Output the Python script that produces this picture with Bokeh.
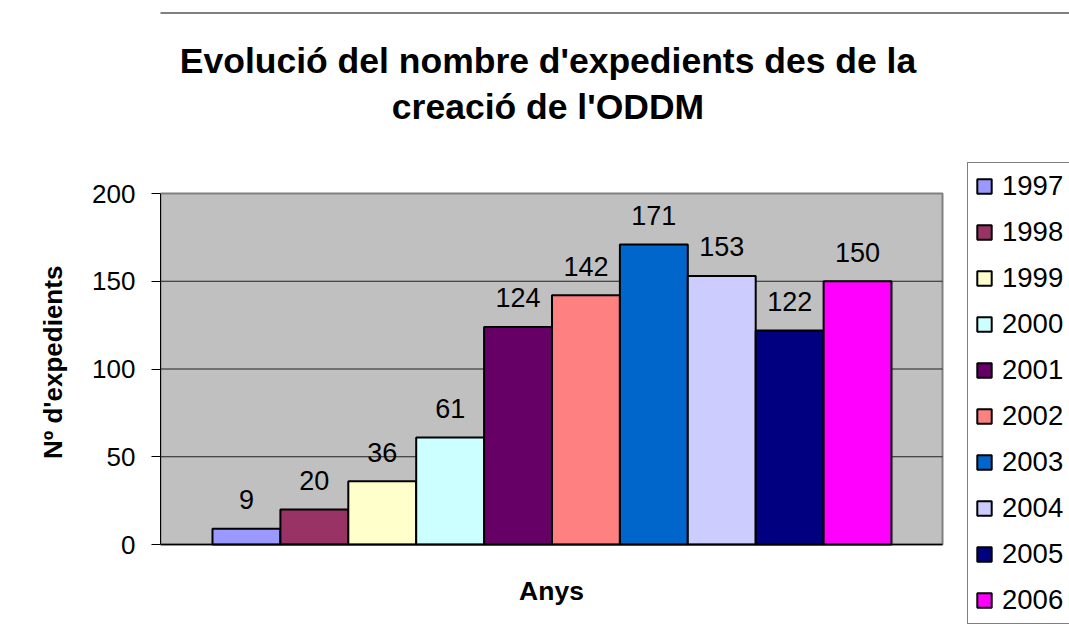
from bokeh.plotting import figure
from bokeh.models import (ColumnDataSource, Range1d, FixedTicker, Legend, LegendItem,
                          Label, BoxAnnotation)
from bokeh.core.properties import value
from bokeh.embed import file_html
from bokeh.resources import INLINE

# ---- data ----
years = ["1997", "1998", "1999", "2000", "2001", "2002", "2003", "2004", "2005", "2006"]
counts = [9, 20, 36, 61, 124, 142, 171, 153, 122, 150]
colors = ["#9999FF", "#993366", "#FFFFCC", "#CCFFFF", "#660066",
          "#FF8080", "#0066CC", "#CCCCFF", "#000080", "#FF00FF"]
y_ticks = [0, 50, 100, 150, 200]
title_lines = ["Evolució del nombre d'expedients des de la", "creació de l'ODDM"]
x_title = "Anys"
y_title = "Nº d'expedients"

FONT = "Liberation Sans"

# ---- layout (pixels) ----
W, H = 1069, 637
plot_l, plot_r, plot_t, plot_b = 160, 942, 193, 544      # grey plot area
bar_px = 67.9
first_bar_left = 212
ypp = (y_ticks[-1] - y_ticks[0]) / (plot_b - plot_t)      # data per pixel (y)

def px_x(px):
    return (px - first_bar_left) / bar_px

def px_y(py):
    return (plot_b - py) * ypp

p = figure(width=W, height=H, output_backend="svg", toolbar_location=None,
           x_range=Range1d(px_x(plot_l), px_x(W)), y_range=Range1d(px_y(H), px_y(0)),
           min_border_left=plot_l, min_border_right=0, min_border_top=0,
           min_border_bottom=0, x_axis_location=None)
p.background_fill_color = "white"
p.border_fill_color = "white"
p.outline_line_color = None
p.xgrid.visible = False
p.ygrid.visible = False

# grey plot area
p.add_layout(BoxAnnotation(left=px_x(plot_l), right=px_x(plot_r), bottom=y_ticks[0],
                           top=y_ticks[-1], fill_color="#C0C0C0", fill_alpha=1,
                           line_color="#808080", line_alpha=1, line_width=2,
                           level="underlay"))

# horizontal gridlines
gy = y_ticks[1:-1]
p.segment(x0=[px_x(plot_l)] * len(gy), x1=[px_x(plot_r)] * len(gy), y0=gy, y1=gy,
          line_color="#202020", line_width=1)

src = ColumnDataSource(dict(x=[i + 0.5 for i in range(len(years))], top=counts,
                            color=colors, year=years, lab=[str(c) for c in counts]))
r = p.vbar(x="x", top="top", width=1.0, bottom=0, source=src, fill_color="color",
           line_color="black", line_width=2)

# category axis line
p.segment(x0=[px_x(plot_l)], x1=[px_x(plot_r)], y0=[y_ticks[0]], y1=[y_ticks[0]],
          line_color="black", line_width=1.5)

p.text(x="x", y="top", text="lab", source=src, text_align="center",
       text_baseline="alphabetic", y_offset=-29, text_font=value(FONT),
       text_font_size="27px", text_color="black")

# y axis
ya = p.yaxis[0]
ya.bounds = (y_ticks[0], y_ticks[-1])
ya.ticker = FixedTicker(ticks=y_ticks)
ya.axis_line_color = "black"
ya.major_tick_line_color = "black"
ya.major_tick_in = 0
ya.major_tick_out = 9
ya.minor_tick_line_color = None
ya.major_label_text_font = FONT
ya.major_label_text_font_size = "26px"
ya.major_label_text_color = "black"
ya.major_label_standoff = 16
# the label is centred on the whole frame; trailing no-break spaces move it
# down to the middle of the grey plot area
ya.axis_label = y_title + "\u00a0" * 12
ya.axis_label_text_font = FONT
ya.axis_label_text_font_size = "26px"
ya.axis_label_text_font_style = "bold"
ya.axis_label_text_color = "black"
ya.axis_label_standoff = 21

# x axis title
p.add_layout(Label(x=px_x((plot_l + plot_r) / 2), y=px_y(590), text=x_title,
                   text_align="center", text_baseline="alphabetic", text_font=FONT,
                   text_font_size="26.5px", text_font_style="bold", text_color="black"))

# chart title
for line, base in zip(title_lines, [60, 106]):
    p.add_layout(Label(x=px_x(547.5), y=px_y(base), text=line, text_align="center",
                       text_baseline="alphabetic", text_font=FONT, text_font_size="35.5px",
                       text_font_style="bold", text_color="black"))

# outer chart border (visible part)
p.add_layout(BoxAnnotation(left=px_x(plot_l - 100), top=px_y(12.5), bottom=px_y(H + 50),
                           right=px_x(W + 50), fill_alpha=0, line_color="black",
                           line_alpha=1, line_width=1))

# legend
items = [LegendItem(label=years[i], renderers=[r], index=i) for i in range(len(years))]
legend = Legend(items=items, location=(967 - plot_l, H - 624),
                orientation="vertical", glyph_width=18, glyph_height=18,
                label_height=32, label_standoff=9, spacing=14, padding=7, margin=0,
                label_text_font=FONT, label_text_font_size="27.5px",
                label_text_color="black", border_line_color="black",
                border_line_width=1, background_fill_color="white",
                background_fill_alpha=1)
p.add_layout(legend, "center")

open("out.html", "w").write(file_html(p, INLINE))
